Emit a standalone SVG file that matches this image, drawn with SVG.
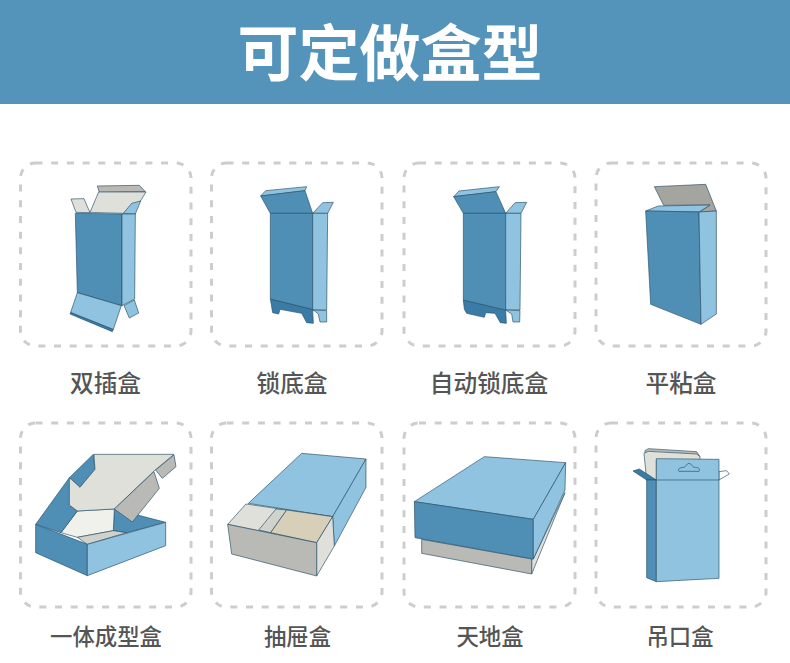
<svg xmlns="http://www.w3.org/2000/svg" width="790" height="663" viewBox="0 0 790 663">
<style>
.frame{fill:none;stroke:#cdcdcd;stroke-width:3;stroke-dasharray:7 8.7}
.title{font:bold 61px "Noto Sans CJK SC","Noto Sans CJK JP",sans-serif;fill:#fff;text-anchor:middle}
.label{font:500 23.700px "Noto Sans CJK SC","Noto Sans CJK JP",sans-serif;fill:#555;text-anchor:middle}
.label2{font-size:22.400px}
polygon,path.s{stroke:#2b5168;stroke-width:2;stroke-linejoin:round}
.d{fill:#4f8fb6}.l{fill:#90c3e0}.e{fill:#3a7ca5}
.g{fill:#e0e0da}.m{fill:#b9b9b5}.w{fill:#f1f1ec}.gg{fill:#a5a5a0}.t{fill:#d8cfb8}.p{fill:#d0d2cc}
</style>
<rect width="790" height="663" fill="#fff"/>
<rect id="header" width="790" height="104" fill="#5594ba"/>
<text class="title" x="390" y="76">可定做盒型</text>

<g id="box-1">
<rect class="frame" x="20.5" y="163" width="170.500" height="183" rx="15"/>
<g transform="translate(0 150) scale(.33333)">
<polygon class="g" points="213,147 252,146 270,188 228,187"/>
<polygon class="m" points="292,108 418,106 436,125 298,127"/>
<polygon class="g" points="270,187 296,126 438,126 420,155 370,190"/>
<polygon class="l" points="370,190 395,160 422,153 406,192"/>
<polygon class="d" points="226,190 366,192 366,467 232,428"/>
<polygon class="l" points="366,192 406,192 404,447 366,467"/>
<polygon class="e" points="212,487 340,538 337,545 210,492"/>
<polygon class="l" points="232,428 364,467 340,538 212,487"/>
<polygon class="l" points="372,467 403,450 416,489 388,504"/>
</g>
<text class="label" x="105.500" y="392">双插盒</text>
</g>

<g id="box-2">
<rect class="frame" x="211.500" y="163" width="170.500" height="183" rx="15"/>
<g transform="translate(0 150) scale(.33333)">
<polygon class="l" points="782,138 797,122 920,110 915,122"/>
<polygon class="d" points="782,138 915,122 938,190 811,190"/>
<polygon class="l" points="938,190 968,158 1000,157 983,190"/>
<polygon class="e" points="811,447 938,478 940,520 920,518 905,490 840,478 836,492 818,488"/>
<polygon class="d" points="811,190 938,190 938,478 811,447"/>
<polygon class="l" points="938,190 983,190 980,480 938,480"/>
<polygon class="l" points="938,480 980,482 980,516 960,516 955,492 940,480"/>
</g>
<text class="label" x="292" y="392">锁底盒</text>
</g>

<g id="box-3">
<rect class="frame" x="404" y="163" width="171" height="183" rx="15"/>
<g transform="translate(395 150) scale(.33333)">
<polygon class="l" points="176,140 192,123 313,110 303,125"/>
<polygon class="d" points="176,140 303,125 332,190 205,190"/>
<polygon class="l" points="332,190 360,158 395,157 378,190"/>
<polygon class="e" points="205,450 332,480 334,520 316,518 300,490 272,488 268,502 215,490 208,478"/>
<polygon class="d" points="205,190 332,190 332,480 205,450"/>
<polygon class="l" points="332,190 378,190 375,480 332,480"/>
<polygon class="l" points="332,480 375,482 374,516 354,516 350,492 335,482"/>
</g>
<text class="label" x="489" y="392">自动锁底盒</text>
</g>

<g id="box-4">
<rect class="frame" x="596" y="163" width="170" height="183" rx="15"/>
<g transform="translate(395 150) scale(.33333)">
<polygon class="gg" points="778,110 932,103 964,183 915,186 945,165 806,166"/>
<polygon class="l" points="752,183 790,168 945,165 912,186"/>
<polygon class="d" points="752,183 912,186 918,523 767,463"/>
<polygon class="l" points="912,186 964,183 964,492 918,523"/>
</g>
<text class="label" x="681" y="392">平粘盒</text>
</g>

<g id="box-5">
<rect class="frame" x="20.5" y="423" width="170.500" height="184" rx="15"/>
<g transform="translate(0 410) scale(.33333)">
<polygon class="d" points="343,297 497,337 380,368 340,362"/>
<polygon class="w" points="232,303 343,297 340,362 232,382 183,368"/>
<polygon class="p" points="232,382 340,362 380,368 262,403"/>
<polygon class="d" points="107,343 208,203 280,133 285,178 240,232 212,205 208,285 232,303 183,368"/>
<polygon class="g" points="282,133 522,133 462,183 343,297 232,303 208,285 208,203 240,232 285,178"/>
<polygon class="m" points="462,185 478,235 397,336 343,297"/>
<polygon class="m" points="522,135 528,170 487,205 467,180"/>
<polygon class="d" points="107,343 262,403 262,497 107,428"/>
<polygon class="l" points="262,403 497,337 497,407 262,497"/>
</g>
<text class="label label2" x="106" y="645">一体成型盒</text>
</g>

<g id="box-6">
<rect class="frame" x="211.500" y="423" width="170.500" height="184" rx="15"/>
<g transform="translate(0 410) scale(.33333)">
<polygon class="l" points="905,130 1098,147 998,320 745,280"/>
<polygon class="l" points="1098,147 1098,232 1003,408 998,320"/>
<polygon class="g" points="683,343 738,282 998,320 950,398"/>
<polygon class="p" points="828,297 860,300 812,368 776,360"/>
<polygon class="t" points="860,300 998,320 950,398 812,368"/>
<polygon class="g" points="950,398 998,320 1003,408 950,498"/>
<polygon class="m" points="683,343 950,398 950,498 695,432"/>
</g>
<text class="label label2" x="297.500" y="645">抽屉盒</text>
</g>

<g id="box-7">
<rect class="frame" x="404" y="423" width="171" height="184" rx="15"/>
<g transform="translate(395 410) scale(.33333)">
<polygon class="g" points="510,248 415,447 410,447 410,492"/>
<polygon class="m" points="80,388 410,447 410,492 80,430"/>
<polygon class="l" points="268,140 512,158 415,328 58,275"/>
<polygon class="d" points="58,275 415,328 415,447 60,383"/>
<polygon class="l" points="512,158 510,240 415,447 415,328"/>
</g>
<text class="label label2" x="490" y="645">天地盒</text>
</g>

<g id="box-8">
<rect class="frame" x="596" y="423" width="170" height="184" rx="15"/>
<g transform="translate(395 410) scale(.33333)">
<polygon class="m" points="750,122 760,116 905,125 915,140 905,140 750,130"/>
<polygon class="g" points="747,130 760,124 905,132 915,140 915,150 784,150 784,210 755,210"/>
<polygon class="e" points="714,183 733,177 784,210 755,210"/>
<polygon fill="#fff" points="972,185 995,182 1003,192 972,210"/>
<polygon class="d" points="755,210 784,210 784,515 755,503"/>
<polygon class="l" points="784,146 972,148 972,505 784,515"/>
<path d="M784 210H972" fill="none" stroke="#2b5168" stroke-width="2"/>
<path d="M852 184C846 174 860 172 868 172C872 172 874 160 882 160C890 160 892 172 898 172C906 172 918 174 912 184Z" fill="none" stroke="#2b5168" stroke-width="2"/>
</g>
<text class="label label2" x="680" y="645">吊口盒</text>
</g>
</svg>
